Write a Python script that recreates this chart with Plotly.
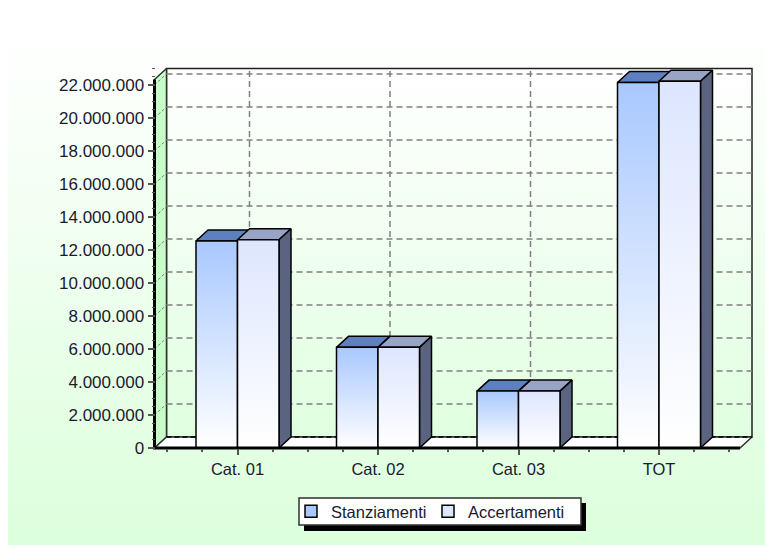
import plotly.graph_objects as go

categories = ["Cat. 01", "Cat. 02", "Cat. 03", "TOT"]
stanziamenti = [12550000, 6100000, 3450000, 22150000]
accertamenti = [12620000, 6100000, 3450000, 22230000]
y_ticks = [0, 2000000, 4000000, 6000000, 8000000, 10000000, 12000000,
           14000000, 16000000, 18000000, 20000000, 22000000]

W, H = 765, 546
PX_CAT = 140.5      # pixels per category
PX_M = 16.5         # pixels per unit of 1,000,000
CAT0_PX = 237.5     # pixel centre of first category
ZERO_PX = 448       # pixel of value 0
DOM_L, DOM_R, DOM_T, DOM_B = 148, 758, 62, 454
FRONT_L, FRONT_R, BACK_R, BACK_T = 154.5, 740, 752, 68.5

xv = lambda p: (p - CAT0_PX) / PX_CAT
yv = lambda p: (ZERO_PX - p) / PX_M * 1e6
DX = 12 / PX_CAT
DY = 11 / PX_M * 1e6
BW = 41.5 / PX_CAT

x_l, x_r, x_br = xv(FRONT_L), xv(FRONT_R), xv(BACK_R)
y_top_b = yv(BACK_T)
y_top_f = y_top_b - DY

fig = go.Figure()
ax = dict(xaxis="x2", yaxis="y2", hoverinfo="skip", showlegend=False)


def poly(xs, ys, color=None, grad=None, line="#000000", lw=1.5):
    kw = {}
    if grad:
        kw["fillgradient"] = dict(type="vertical", colorscale=[[0, grad[0]], [1, grad[1]]])
    else:
        kw["fillcolor"] = color
    fig.add_trace(go.Scatter(x=xs + xs[:1], y=ys + ys[:1], mode="lines", fill="toself",
                             line=dict(color=line, width=lw), **kw, **ax))


# page background on the first (full page) axes
fig.add_trace(go.Scatter(x=[8, W, W, 8, 8], y=[30, 30, 545, 545, 30], mode="lines", fill="toself",
                         line=dict(width=0),
                         fillgradient=dict(type="vertical", colorscale=[[0, "#dcffdc"], [1, "#ffffff"]]),
                         hoverinfo="skip", showlegend=False, xaxis="x", yaxis="y"))

# real bars (legend + base); gradient faces are drawn over them
for name, vals, col in [("Stanziamenti", stanziamenti, "#a8c8ff"), ("Accertamenti", accertamenti, "#dde6ff")]:
    fig.add_trace(go.Bar(x=list(range(len(categories))), y=vals, name=name, width=BW,
                         marker=dict(color=col, line=dict(color="#000000", width=1.5)),
                         xaxis="x2", yaxis="y2", hoverinfo="skip"))

# walls and floor
poly([x_l + DX, x_br, x_br, x_l + DX], [DY, DY, y_top_b, y_top_b], grad=("#e0ffe0", "#ffffff"), line="#202020")
poly([x_l, x_l + DX, x_l + DX, x_l], [0, DY, y_top_b, y_top_f], color="#c8ffc8", line="#303030")
poly([x_l, x_l + DX, x_br, x_r], [0, DY, DY, 0], color="#ffffff", line="#303030")

# grid on the walls
gx, gy, sx, sy = [], [], [], []
for t in y_ticks[1:]:
    gx += [x_l + DX, x_br, None]
    gy += [t + DY, t + DY, None]
    sx += [x_l, x_l + DX, None]
    sy += [t, t + DY, None]
fig.add_trace(go.Scatter(x=gx, y=gy, mode="lines", line=dict(color="#808080", width=1.5, dash="6px,4px"), **ax))
fig.add_trace(go.Scatter(x=sx, y=sy, mode="lines", line=dict(color="#808080", width=1, dash="3px,2px"), **ax))
vx, vy = [], []
for i in range(len(categories)):
    vx += [i + DX, i + DX, None]
    vy += [DY, y_top_b, None]
fig.add_trace(go.Scatter(x=vx, y=vy, mode="lines", line=dict(color="#808080", width=1.5, dash="6px,4px"), **ax))
fig.add_trace(go.Scatter(x=[x_l + DX, x_br], y=[DY, DY], mode="lines",
                         line=dict(color="#000000", width=1.5, dash="5px,3px"), **ax))

# 3D bars
for i in range(len(categories)):
    s, a = stanziamenti[i], accertamenti[i]
    poly([i - BW, i - BW + DX, i + DX, i], [s, s + DY, s + DY, s], color="#5f80bf")
    poly([i, i + DX, i + BW + DX, i + BW], [a, a + DY, a + DY, a], color="#98a4c4")
    poly([i + BW, i + BW + DX, i + BW + DX, i + BW], [0, DY, a + DY, a], color="#5a6480")
    poly([i - BW, i, i, i - BW], [0, 0, s, s], grad=("#ffffff", "#a8c8ff"))
    poly([i, i + BW, i + BW, i], [0, 0, a, a], grad=("#ffffff", "#dde6ff"))

# thick front axes
fig.add_trace(go.Scatter(x=[x_r, x_l, x_l], y=[0, 0, y_top_f], mode="lines",
                         line=dict(color="#000000", width=3), **ax))

font = dict(family="Liberation Sans, Arial, sans-serif", size=17, color="#1a1a2e")
fig.update_layout(
    width=W, height=H, margin=dict(l=0, r=0, t=0, b=0, autoexpand=False),
    paper_bgcolor="#ffffff", plot_bgcolor="rgba(0,0,0,0)",
    separators=",.", font=font, barmode="group", bargap=1 - 2 * BW, bargroupgap=0,
    xaxis=dict(domain=[0, 1], range=[0, W], visible=False, fixedrange=True),
    yaxis=dict(domain=[0, 1], range=[H, 0], visible=False, fixedrange=True),
    xaxis2=dict(domain=[DOM_L / W, DOM_R / W], range=[xv(DOM_L), xv(DOM_R)],
                anchor="free", position=1 - ZERO_PX / H,
                tickmode="array", tickvals=list(range(len(categories))), ticktext=categories,
                tickfont=dict(size=16.5),
                ticks="outside", ticklen=6, tickwidth=1.5, tickcolor="#555555",
                minor=dict(tick0=-0.5, dtick=0.25, ticks="outside", ticklen=3, tickwidth=1.5, tickcolor="#555555"),
                showgrid=False, zeroline=False, showline=False, ticklabelstandoff=0),
    yaxis2=dict(domain=[1 - DOM_B / H, 1 - DOM_T / H], range=[yv(DOM_B), yv(DOM_T)],
                anchor="free", position=FRONT_L / W,
                tickmode="array", tickvals=y_ticks, tickformat=",d",
                ticks="outside", ticklen=7, tickwidth=1.5, tickcolor="#555555",
                minor=dict(tick0=0, dtick=500000, ticks="outside", ticklen=3, tickwidth=1, tickcolor="#555555"),
                showgrid=False, zeroline=False, showline=False),
    legend=dict(orientation="h", xanchor="left", yanchor="middle", x=291 / W, y=1 - 511.5 / H,
                bgcolor="rgba(0,0,0,0)", borderwidth=0, entrywidth=92, entrywidthmode="pixels",
                font=dict(size=16.5, color="#1a1a2e"), itemclick=False, itemdoubleclick=False),
    shapes=[
        dict(type="rect", xref="x", yref="y", x0=304, x1=586, y0=503, y1=531,
             fillcolor="#000000", line=dict(width=0), layer="above"),
        dict(type="rect", xref="x", yref="y", x0=299, x1=581, y0=498, y1=525,
             fillcolor="#ffffff", line=dict(color="#303030", width=1.5), layer="above"),
    ],
)
fig.write_html(
    "out.html",
    config={"displayModeBar": False},
    post_script=(
        "document.documentElement.style.overflow='hidden';"
        "document.body.style.margin='0';"
        "document.body.style.overflow='hidden';"
        "document.documentElement.style.height='546px';"
        "document.body.style.height='546px';"
    ),
)
